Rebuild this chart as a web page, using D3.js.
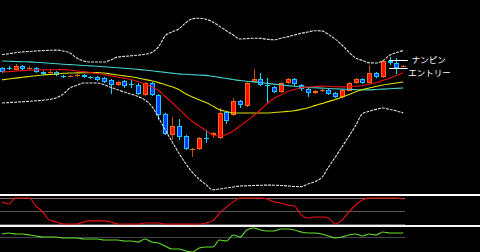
<!DOCTYPE html>
<html><head><meta charset="utf-8">
<script src="https://cdn.jsdelivr.net/npm/d3@7"></script>
<style>html,body{margin:0;padding:0;background:#000;overflow:hidden}svg{display:block}</style>
</head><body>
<svg id="c" width="480" height="252"></svg>
<script>
// ---- data (prices in chart units) ----
const opens  = [132,132,130,134,131.5,132,128,127,128,124,123,123.5,125,123,123,122,120,115,119,116,115,105,117,105,86,65,74,64,50.5,51,62,65,62,88,85,99,94,118,121,115,113,108,117,121,115,111,107,109.5,110,107,103,109,117,121,117,127,123,139,137,133];
const highs  = [133,134,136,135,134,133,129,130,129,125,125,126,126,124,124,123,121,119,120,120,117,118,118,106,87,83,81,65,52,63,70,68,92,89,102,100,118,131,127,122,114,118,122,122,116,112,110,111,111,108,111,118,122,122,135,128,140,143,142,135];
const lows   = [127,130,129,130,130,127,125,126,124,122,123,123,122,121,119,117,106,114,112,112,105,104,104,80,65,60,60,50,43,50,57,62,61,76,84,92,93,118,114,97,107,107,116,114,109,103,106,108,105,102,102,109,116,116,116,122,122,135,126,133];
const closes = [128,131,134,131,132,128,126,128,125,123,124,125,123,122,120,118,115,118,114,115.5,106,117,105,85,66,74,63,51,51,62,61.5,67,87,79,99,95,117,121,115,114,108,117,121,116,111,107,109,110,106,103,110,117,121,117,127,123,139,137,132,134];
const maShort = [128,128.4,128.9,129.4,129.8,130,130.1,130.2,130.3,130.4,130,129.1,128.4,127.5,126.5,125.5,124.2,123,121.7,120.5,118.5,116.2,113.5,109.5,103.5,97.5,91,84.5,78.5,74,69.5,65,64,65.5,69,74,79,84.5,90,96.5,101.5,105,108.5,110.5,112.2,113,113.5,113.9,113.6,113.2,113.1,113.5,113.8,114.5,115.8,117.2,119.5,121.8,124.5,127.3];
const maMid = [120.2,121,121.9,122.7,123.5,124.3,125,125.5,126,126.7,127,127.1,127.2,127.4,127.5,127,126,125,124.1,123.2,122,120.6,119.2,117.4,115.3,113.3,110.5,106.2,103,100.2,97.4,93.9,90.2,88.5,87,87,87,87,87,87,87.5,88,88.6,89.3,90.7,92.3,94.4,96.4,98.4,100.6,102.7,105.4,108.2,110.5,112,113.5,115,116,117,118];
const maLong = [139,138.8,138.5,138.3,138.1,137.8,137.3,136.8,136.3,135.8,135.4,135,134.5,134.1,133.7,133.2,132.7,132.2,131.7,131.2,130.6,130,129.2,128.4,127.6,126.9,126.1,125.7,125.3,125,124.6,123.6,122.6,121.5,120.5,119.5,118.8,118.1,117.4,116.6,115.9,115.2,114.4,113.7,113.1,112.5,112.2,111.9,111.5,111.2,110.9,110.7,110.4,110.1,110.1,110.5,110.9,111.3,111.6,112];
const bbUpper = [145.3,146.3,147.3,148.1,148.5,149,149.4,149.7,149.9,149,147,142,139,138,138,138,140,143,143.6,144.2,144.8,145.7,147.5,153.2,164,168,171,177,181.2,181.8,180.8,178,173.6,169.3,165,161,161.4,161.8,161.6,160.7,160.2,161.7,163.2,165,166.7,168,169.3,169.1,165.5,161,155,148,142,139.5,137.2,137,139.3,144.7,147.5,149.5];
const bbLower = [97,97.4,97.8,98.2,98.7,99.2,99.7,100.6,102.2,105.9,112,114.6,117,117,117,115.4,112.7,110.3,107.9,105.8,103.6,100.1,94,82.5,70.2,58.5,47,36.5,27.6,20.8,15.4,10.2,11,12,13,14,14.2,14.5,14.7,14.9,14.8,14.5,14.1,13.5,13.4,16,18.2,22.4,32.6,42.8,53.1,63.6,74.4,86.2,88.8,90.6,92,90.6,89.1,87.1];
const oscRed = [85,77,100,100,100,69,46,15,8,0,0,0,8,12,12,12,8,0,0,0,0,4,4,4,0,0,0,0,0,0,4,12,42,65,85,100,100,100,100,96,85,81,73,69,35,23,27,27,23,0,15,46,73,92,100,100,100,100,100,96];
const oscRedLevels = [100,50,0];
const oscGreen = [3,4,3,3,2,1,0,0,0,-1,-1,-1,-2,-2,-2,-3,-3,-3,-4,-4,-5,-2,-5,-6,-9,-12,-12,-14,-15,-11,-10,-10,-3,-4,2,0,7,9,7,6,6,8,8,7,5,4,4,3,1,-1,0,2,3,1,3,2,5,4,4,4];
const oscGreenLevels = [0];
const orderLabels = ["ナンピン","エントリー"];
const orderPrices = [140.5,132];

// ---- drawing ----
const svg = d3.select("#c");
const W = 480, H = 252;
svg.append("rect").attr("width",W).attr("height",H).attr("fill","#000");

const n = closes.length;
const x = d3.scaleLinear().domain([0, n-1]).range([2, 403.2]);
const y = d3.scaleLinear().domain([0, 200]).range([200, 0]);
const yR = d3.scaleLinear().domain([0, 100]).range([224, 198]);
const yG = d3.scaleLinear().domain([-15, 15]).range([252, 222]);
const cx = i => Math.round(x(i));
const endX = x(n-1) + 2;

// separators
svg.append("rect").attr("x",0).attr("y",194).attr("width",W).attr("height",2).attr("fill","#fff");
svg.append("rect").attr("x",0).attr("y",225).attr("width",W).attr("height",2).attr("fill","#f4f4f4");

// panel levels
svg.selectAll(".lvR").data(oscRedLevels).join("line")
  .attr("x1",0).attr("x2",endX)
  .attr("y1",d=>Math.round(yR(d))+0.5).attr("y2",d=>Math.round(yR(d))+0.5)
  .attr("stroke",(d,i)=> i===0 ? "#8a6a6a" : "#555").attr("stroke-width",1);
svg.selectAll(".lvG").data(oscGreenLevels).join("line")
  .attr("x1",0).attr("x2",endX)
  .attr("y1",d=>Math.round(yG(d))+0.5).attr("y2",d=>Math.round(yG(d))+0.5)
  .attr("stroke","#444").attr("stroke-width",1);

// candles
const up = i => closes[i] >= opens[i];
const g = svg.append("g");
const idx = d3.range(n);
g.selectAll(".wick").data(idx).join("line")
  .attr("x1",i=>cx(i)+0.5).attr("x2",i=>cx(i)+0.5)
  .attr("y1",i=>Math.round(y(highs[i]))).attr("y2",i=>Math.round(y(lows[i])))
  .attr("stroke",i=> up(i) ? "#b5501a" : "#18d4ff").attr("stroke-width",1);
g.selectAll(".body").data(idx).join("rect")
  .attr("x",i=>cx(i)-1.5).attr("width",4)
  .attr("y",i=>Math.round(y(Math.max(opens[i],closes[i])))+0.5)
  .attr("height",i=>Math.max(0.01, Math.round(y(Math.min(opens[i],closes[i]))) - Math.round(y(Math.max(opens[i],closes[i]))) - 1))
  .attr("fill",i=> up(i) ? "#ff1000" : "#0a3cff")
  .attr("stroke",i=> up(i) ? "#ff6a10" : "#18c8ff").attr("stroke-width",1);

// moving averages & bands
const line = (arr, sc) => d3.line().x((d,i)=>x(i)).y(d=>sc(d)).curve(d3.curveMonotoneX)(arr);
svg.append("path").attr("d",line(bbUpper,y)).attr("fill","none").attr("stroke","#dcdcdc").attr("stroke-width",1.1).attr("stroke-dasharray","3,1");
svg.append("path").attr("d",line(bbLower,y)).attr("fill","none").attr("stroke","#dcdcdc").attr("stroke-width",1.1).attr("stroke-dasharray","3,1");
svg.append("path").attr("d",line(maLong,y)).attr("fill","none").attr("stroke","#46d0d0").attr("stroke-width",1.1);
svg.append("path").attr("d",line(maMid,y)).attr("fill","none").attr("stroke","#e0e000").attr("stroke-width",1.1);
svg.append("path").attr("d",line(maShort,y)).attr("fill","none").attr("stroke","#e81010").attr("stroke-width",1.1);

// oscillators
svg.append("path").attr("d",line(oscRed,yR)).attr("fill","none").attr("stroke","#f01010").attr("stroke-width",1.1);
svg.append("path").attr("d",line(oscGreen,yG)).attr("fill","none").attr("stroke","#62e02a").attr("stroke-width",1.1);

// order markers
svg.selectAll(".ordl").data(orderPrices).join("line")
  .attr("x1",x(n-3)-0.5).attr("x2",x(n-1)+4.5)
  .attr("y1",d=>Math.round(y(d))+0.5).attr("y2",d=>Math.round(y(d))+0.5)
  .attr("stroke","#fff").attr("stroke-width",1);
svg.selectAll(".ordt").data(orderLabels).join("text")
  .attr("x",(d,i)=> x(n-1) + (i===0 ? 8.5 : 5))
  .attr("y",(d,i)=> Math.round(y(orderPrices[i])) + (i===0 ? 3 : 8))
  .attr("fill","#fff").attr("font-family","'Noto Sans CJK JP'").attr("font-size",8.5)
  .text(d=>d);
</script>
</body></html>
